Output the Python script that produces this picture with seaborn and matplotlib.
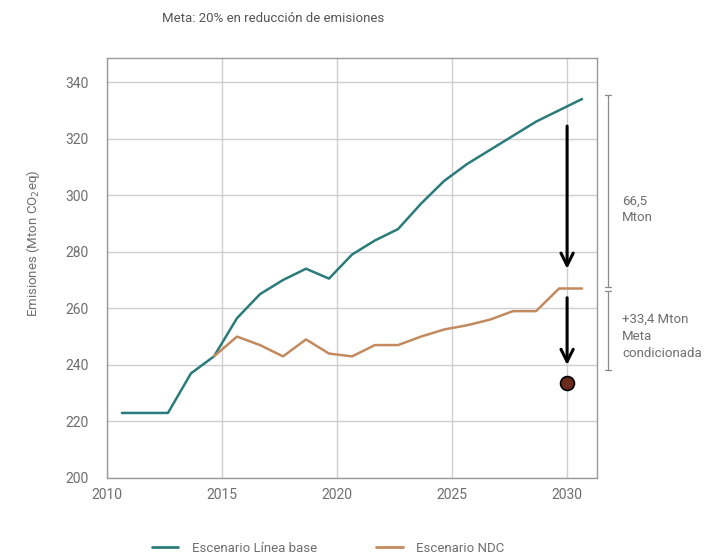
import matplotlib
matplotlib.use("Agg")
import matplotlib.pyplot as plt
import seaborn as sns
import pandas as pd
import numpy as np
from matplotlib.lines import Line2D

sns.set_theme(style="white")
plt.rcParams['font.family'] = ['Roboto', 'DejaVu Sans']

years_base = [2010, 2011, 2012, 2013, 2014, 2015, 2016, 2017, 2018, 2019, 2020,
              2021, 2022, 2023, 2024, 2025, 2026, 2027, 2028, 2029, 2030]
base_values = [223, 223, 223, 237, 243, 256.5, 265, 270, 274, 270.5, 279,
               284, 288, 297, 305, 311, 316, 321, 326, 330, 334]
years_ndc = [2014, 2015, 2016, 2017, 2018, 2019, 2020, 2021, 2022, 2023, 2024,
             2025, 2026, 2027, 2028, 2029, 2030]
ndc_values = [243, 250, 247, 243, 249, 244, 243, 247, 247, 250, 252.5,
              254, 256, 259, 259, 267, 267]
target_year = 2030
target_value = 233.6
labels = ["Escenario Línea base", "Escenario NDC"]
title = "Meta: 20% en reducción de emisiones"
reduction_text = "66,5\nMton"
conditional_text = "+33,4 Mton\nMeta\ncondicionada"
y_ticks = [200, 220, 240, 260, 280, 300, 320, 340]
x_ticks = [2010, 2015, 2020, 2025, 2030]

teal = "#2b7b7a"
orange = "#c28a5e"
grey_text = "#6e6e6e"

offset = 0.65
df = pd.concat([
    pd.DataFrame({"year": np.array(years_base) + offset, "value": base_values, "serie": labels[0]}),
    pd.DataFrame({"year": np.array(years_ndc) + offset, "value": ndc_values, "serie": labels[1]}),
])

fig = plt.figure(figsize=(7.08, 5.59), dpi=100)
ax = fig.add_axes([107/708, 1-478/559, (597-107)/708, (478-58)/559])

sns.lineplot(data=df, x="year", y="value", hue="serie",
             palette={labels[0]: teal, labels[1]: orange},
             linewidth=1.8, ax=ax, legend=False, zorder=3)

ax.set_xlim(2010, 2031.3)
ax.set_ylim(200, 348.5)
ax.set_xticks(x_ticks)
ax.set_yticks(y_ticks)
ax.grid(True, color="#cfcfcf", linewidth=1)
for s in ax.spines.values():
    s.set_color("#9a9a9a")
    s.set_linewidth(1)
ax.tick_params(axis="y", labelsize=10, labelcolor=grey_text, length=0, pad=13)
ax.tick_params(axis="x", labelsize=10, labelcolor=grey_text, length=0, pad=7)
ax.set_xlabel("")
ax.set_ylabel("Emisiones (Mton CO$_2$eq)", fontsize=9.5, color=grey_text)
ax.yaxis.set_label_coords(-0.133, 0.56)

# arrows
ax.annotate("", xy=(2030, 273), xytext=(2030, 325.4),
            arrowprops=dict(arrowstyle="->", color="black", lw=2.2, mutation_scale=22), zorder=5)
ax.annotate("", xy=(2030, 239), xytext=(2030, 264.7),
            arrowprops=dict(arrowstyle="->", color="black", lw=2.2, mutation_scale=22), zorder=5)
ax.scatter([target_year], [target_value], s=100, color="#6a2a1e", edgecolor="black",
           linewidth=1.2, zorder=6)

# brackets
bx = 2031.78
cap = 0.15
for y0, y1 in [(335.3, 267.6), (266.2, 238.2)]:
    ax.plot([bx, bx], [y0, y1], color="#8a8a8a", lw=0.9, clip_on=False)
    for yy in (y0, y1):
        ax.plot([bx - cap, bx + cap], [yy, yy], color="#8a8a8a", lw=0.9, clip_on=False)

ax.text(2032.4, 295, reduction_text, fontsize=9.5, color=grey_text, va="center", ha="left",
        linespacing=1.4, clip_on=False)
ax.text(2032.4, 250, conditional_text, fontsize=9.5, color=grey_text, va="center", ha="left",
        linespacing=1.4, clip_on=False)

fig.text(273/708, 1-18/559, title, fontsize=9.5, color="#555555", ha="center", va="center")

handles = [Line2D([], [], color=teal, lw=2), Line2D([], [], color=orange, lw=2)]
fig.legend(handles, labels, loc="center", bbox_to_anchor=(328/708, 1-548/559), ncol=2,
           frameon=False, fontsize=9.5, labelcolor=grey_text, handlelength=2.0,
           columnspacing=4.5, handletextpad=1)

fig.savefig("out.png", dpi=100, facecolor="white")
